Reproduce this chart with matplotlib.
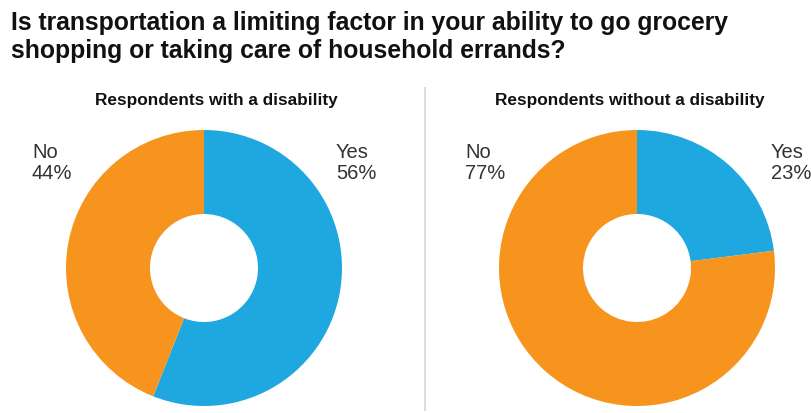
import matplotlib
matplotlib.use("Agg")
import matplotlib.pyplot as plt
from matplotlib.lines import Line2D

plt.rcParams['font.family'] = ['Liberation Sans', 'DejaVu Sans']

title = "Is transportation a limiting factor in your ability to go grocery\nshopping or taking care of household errands?"
panel_titles = ["Respondents with a disability", "Respondents without a disability"]
categories = ["Yes", "No"]
with_disability = [56, 44]
without_disability = [23, 77]
colors = ["#1fa8e0", "#f7941d"]

W, H = 812, 413
fig = plt.figure(figsize=(W / 100, H / 100), dpi=100)

fig.text(11 / W, 1 - 11 / H, title, ha='left', va='top', fontsize=17.8,
         fontweight='bold', color='#111111', linespacing=1.22)

centers = [(204, 268), (637, 268)]
title_x = [216, 630]
R = 138
hole = 54 / 138
series = [with_disability, without_disability]

for (cx, cy), tx, vals, ptitle in zip(centers, title_x, series, panel_titles):
    ax = fig.add_axes([(cx - R) / W, (H - cy - R) / H, 2 * R / W, 2 * R / H])
    ax.pie(vals, colors=colors, startangle=90, counterclock=False,
           radius=1.0, wedgeprops=dict(width=1 - hole, linewidth=0))
    ax.set_xlim(-1, 1)
    ax.set_ylim(-1, 1)
    ax.set_aspect('auto')
    ax.axis('off')
    fig.text(tx / W, 1 - 101 / H, ptitle, ha='center', va='center',
             fontsize=12.4, fontweight='bold', color='#111111')

# value labels
label_pos = [
    [(336, 163), (32, 163)],
    [(771, 163), (465, 163)],
]
for vals, pos in zip(series, label_pos):
    for cat, v, (x, y) in zip(categories, vals, pos):
        fig.text(x / W, 1 - y / H, f"{cat}\n{v}%", ha='left', va='center',
                 fontsize=14.5, color='#333333', linespacing=1.15)

fig.add_artist(Line2D([425 / W, 425 / W], [1 - 88 / H, 1 - 410 / H],
                      transform=fig.transFigure, color='#dddddd', linewidth=1.5))

fig.savefig("out.png", dpi=100, facecolor='white')
